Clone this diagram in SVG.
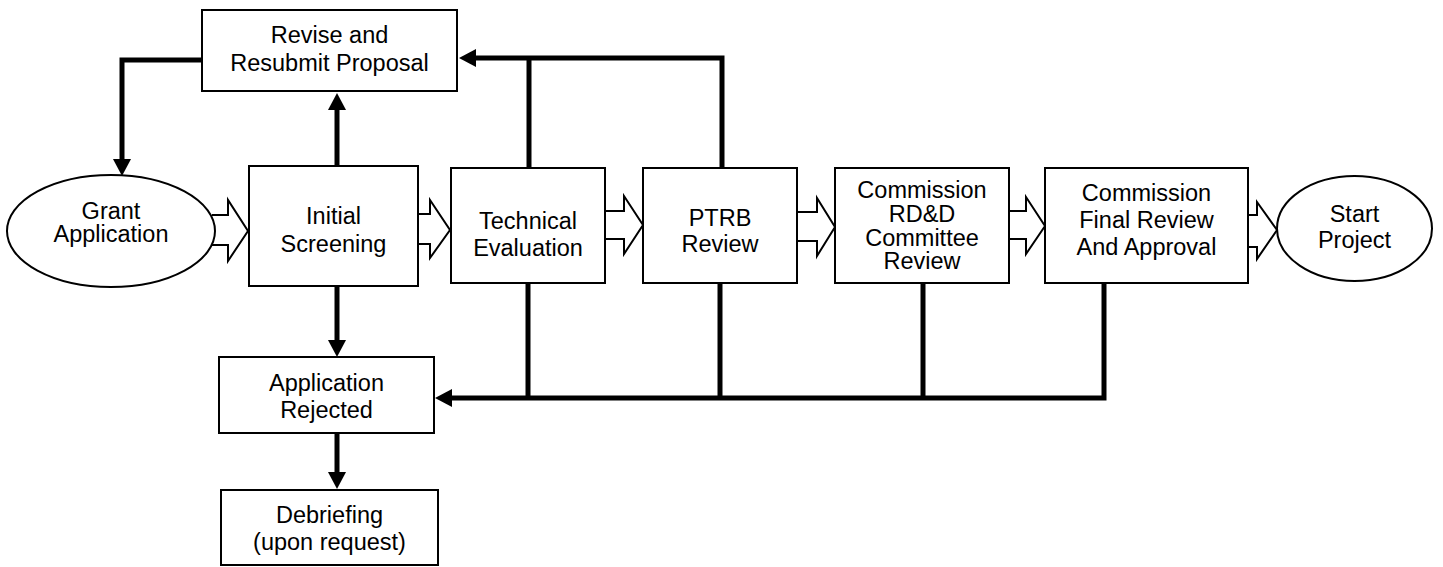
<svg xmlns="http://www.w3.org/2000/svg" width="1443" height="567" viewBox="0 0 1443 567">
<style>
.box{fill:#fff;stroke:#000;stroke-width:2}
.ell{fill:#fff;stroke:#000;stroke-width:2}
.blk{fill:#fff;stroke:#000;stroke-width:2;stroke-linejoin:miter}
.thick{fill:none;stroke:#000;stroke-width:5;stroke-linejoin:miter}
text{font-family:"Liberation Sans",Arial,sans-serif;font-size:23.5px;text-anchor:middle;fill:#000}
</style>
<defs>
<marker id="ah" viewBox="0 -9 17 18" markerWidth="17" markerHeight="18" refX="1" refY="0" markerUnits="userSpaceOnUse" orient="auto">
<path d="M0,-9 L17,0 L0,9 Z" fill="#000"/>
</marker>
</defs>
<rect width="1443" height="567" fill="#fff"/>
<g id="connectors">
<path class="thick" d="M202,60 H122 V160" marker-end="url(#ah)"/>
<path class="thick" d="M337,166 V109" marker-end="url(#ah)"/>
<path class="thick" d="M529,168 V58"/>
<path class="thick" d="M722,168 V58 H475" marker-end="url(#ah)"/>
<path class="thick" d="M337,286 V341" marker-end="url(#ah)"/>
<path class="thick" d="M337,434 V473" marker-end="url(#ah)"/>
<path class="thick" d="M528,283 V398"/>
<path class="thick" d="M720,283 V398"/>
<path class="thick" d="M923,283 V398"/>
<path class="thick" d="M1104,283 V398 H451" marker-end="url(#ah)"/>
<path class="blk" d="M212,215 H228 V200 L248,231 L228,261 V245 H212"/>
<path class="blk" d="M418,214 H430 V200 L450,230 L430,258 V244 H418"/>
<path class="blk" d="M605,211 H624 V196 L643,225 L624,254 V239 H605"/>
<path class="blk" d="M797,212 H817 V198 L835,227 L817,256 V241 H797"/>
<path class="blk" d="M1009,211 H1026 V197 L1045,226 L1026,254 V239 H1009"/>
<path class="blk" d="M1248,215 H1257 V202 L1277,230 L1257,259 V247 H1248"/>
</g>
<g id="revise">
<rect class="box" x="202" y="10" width="255" height="81"/>
<text x="329.5" y="43">Revise and</text>
<text x="329.5" y="71">Resubmit Proposal</text>
</g>
<g id="grant">
<ellipse class="ell" cx="111" cy="231" rx="104" ry="56"/>
<text x="111" y="219">Grant</text>
<text x="111" y="242">Application</text>
</g>
<g id="screening">
<rect class="box" x="249" y="166" width="169" height="120"/>
<text x="333.5" y="224">Initial</text>
<text x="333.5" y="252">Screening</text>
</g>
<g id="technical">
<rect class="box" x="451" y="168" width="154" height="115"/>
<text x="528" y="229">Technical</text>
<text x="528" y="256">Evaluation</text>
</g>
<g id="ptrb">
<rect class="box" x="643" y="168" width="154" height="115"/>
<text x="720" y="226">PTRB</text>
<text x="720" y="252">Review</text>
</g>
<g id="rdd">
<rect class="box" x="835" y="168" width="174" height="115"/>
<text x="922" y="198">Commission</text>
<text x="922" y="222">RD&amp;D</text>
<text x="922" y="246">Committee</text>
<text x="922" y="269">Review</text>
</g>
<g id="final">
<rect class="box" x="1045" y="168" width="203" height="115"/>
<text x="1146.5" y="201">Commission</text>
<text x="1146.5" y="228">Final Review</text>
<text x="1146.5" y="255">And Approval</text>
</g>
<g id="start">
<ellipse class="ell" cx="1354.5" cy="228.5" rx="77.5" ry="52.5"/>
<text x="1354.5" y="222">Start</text>
<text x="1354.5" y="248">Project</text>
</g>
<g id="rejected">
<rect class="box" x="219" y="357" width="215" height="76"/>
<text x="326.5" y="391">Application</text>
<text x="326.5" y="418">Rejected</text>
</g>
<g id="debriefing">
<rect class="box" x="221" y="490" width="217" height="75"/>
<text x="329.5" y="523">Debriefing</text>
<text x="329.5" y="550">(upon request)</text>
</g>
</svg>
